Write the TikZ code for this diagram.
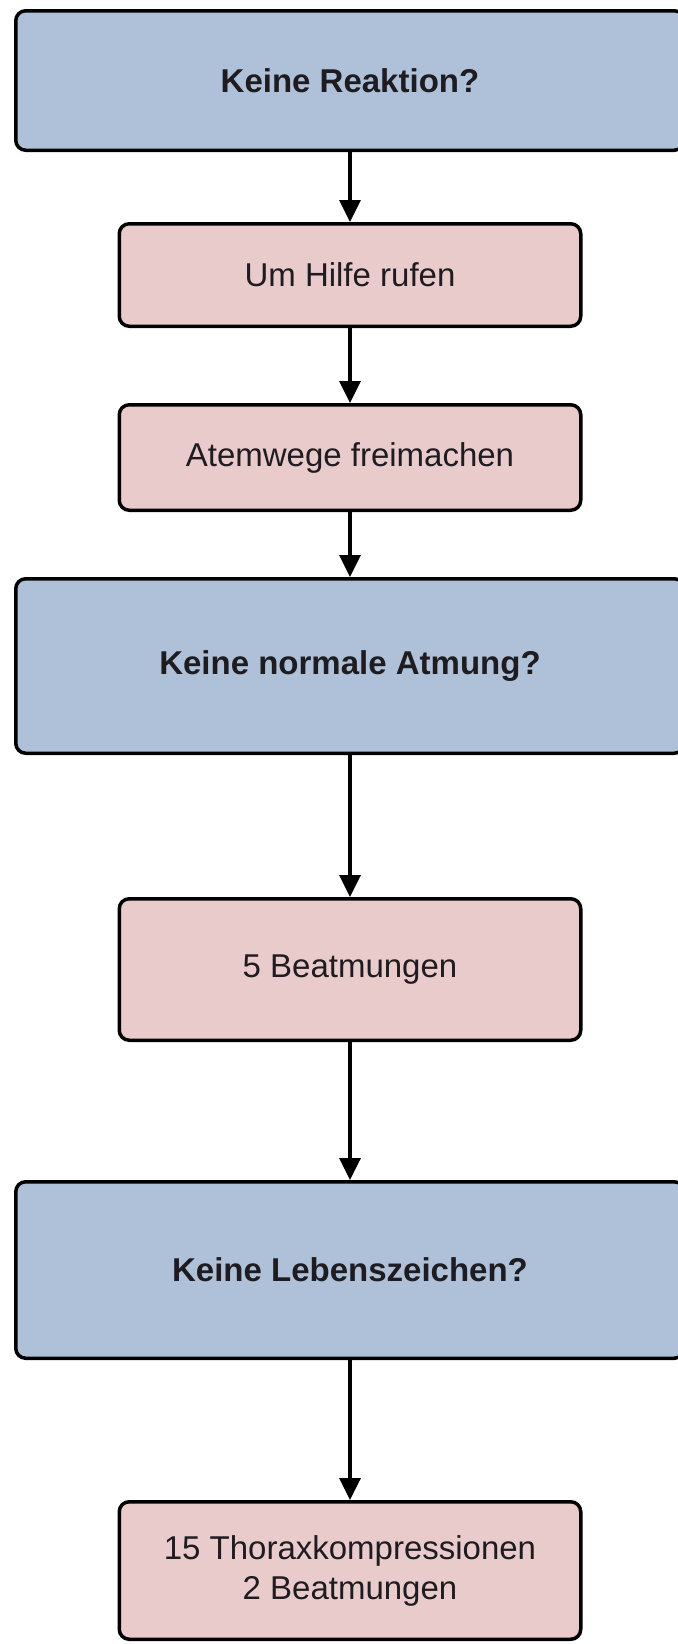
\documentclass[tikz,border=0pt]{standalone}
\usepackage{fontspec}
\setmainfont{Liberation Sans}
\usepackage{xcolor}
\definecolor{ASKCOLOR}{RGB}{175,193,217}
\definecolor{DOCOLOR}{RGB}{233,203,203}
\definecolor{TEXTCOLOR}{RGB}{30,28,32}
\usetikzlibrary{positioning,arrows.meta}
\tikzset{
  basic-style/.style = {
    rectangle, rounded corners=5pt, draw=black, line width=1.75pt,
    fill=#1,
    text=TEXTCOLOR,
    align=center,
    inner sep=2pt,
    font=\fontsize{16.5}{20}\selectfont
  },
  ask-style/.style = {
    basic-style=ASKCOLOR,
    minimum width=334.25pt,
    font=\fontsize{16.5}{20}\selectfont\bfseries
  },
  do-style/.style = {
    basic-style=DOCOLOR,
    minimum width=230.75pt
  },
  every edge/.style = {draw, line width=1.75pt, -{Triangle[length=11pt,width=10.5pt]}}
}
\newlength\shortGap
\setlength\shortGap{35pt}
\newlength\longGap
\setlength\longGap{70pt}
\begin{document}
\begin{tikzpicture}
  \useasboundingbox (0,0) rectangle (339pt,-822pt);

  \node[ask-style, minimum height=69.75pt] (reaction) at (175pt,-40.25pt) {Keine Reaktion?};
  \node[do-style, minimum height=51.25pt, below=\shortGap of reaction] (help) {Um Hilfe rufen};
  \node[do-style, minimum height=52.75pt, below=37.5pt of help] (airway) {Atemwege freimachen};
  \node[ask-style, minimum height=87.25pt, below=32.5pt of airway] (breathing) {Keine normale Atmung?};
  \node[do-style, minimum height=70.75pt, below=71pt of breathing] (rescue) {5 Beatmungen};
  \node[ask-style, minimum height=88.25pt, below=69pt of rescue] (signs) {Keine Lebenszeichen?};
  \node[do-style, minimum height=68.75pt, below=\longGap of signs] (cpr) {15 Thoraxkompressionen\\2 Beatmungen};

  \path (reaction) edge (help)
        (help) edge (airway)
        (airway) edge (breathing)
        (breathing) edge (rescue)
        (rescue) edge (signs)
        (signs) edge (cpr);
\end{tikzpicture}
\end{document}
